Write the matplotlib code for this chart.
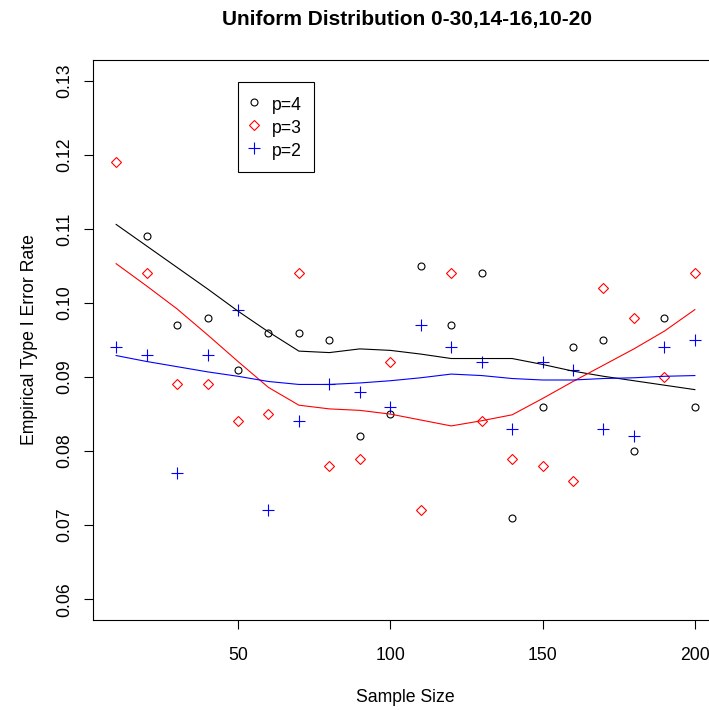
"""
Empirical type I error rate vs sample size, uniform distribution case.
R base-graphics look: boxed axes, rotated y tick labels, smooth curves.
Output: out.png
"""

import matplotlib
matplotlib.use("Agg")
import matplotlib.pyplot as plt
from matplotlib.lines import Line2D
import numpy as np

plt.rcParams["font.family"] = ["Liberation Sans", "DejaVu Sans"]

sample_sizes = [10, 20, 30, 40, 50, 60, 70, 80, 90, 100,
                110, 120, 130, 140, 150, 160, 170, 180, 190, 200]

# observed rates (p=4 at n=10 falls outside the plotted range)
rate_p4 = [np.nan, 0.109, 0.097, 0.098, 0.091, 0.096, 0.096, 0.095, 0.082, 0.085,
           0.105, 0.097, 0.104, 0.071, 0.086, 0.094, 0.095, 0.080, 0.098, 0.086]
rate_p3 = [0.119, 0.104, 0.089, 0.089, 0.084, 0.085, 0.104, 0.078, 0.079, 0.092,
           0.072, 0.104, 0.084, 0.079, 0.078, 0.076, 0.102, 0.098, 0.090, 0.104]
rate_p2 = [0.094, 0.093, 0.077, 0.093, 0.099, 0.072, 0.084, 0.089, 0.088, 0.086,
           0.097, 0.094, 0.092, 0.083, 0.092, 0.091, 0.083, 0.082, 0.094, 0.095]

# smoothed curves
smooth_p4 = [0.1106, 0.1077, 0.1048, 0.1019, 0.0989, 0.0961, 0.0935, 0.0933, 0.0938, 0.0936,
             0.0931, 0.0925, 0.0925, 0.0925, 0.0917, 0.0908, 0.0901, 0.0895, 0.0889, 0.0883]
smooth_p3 = [0.1053, 0.1023, 0.0992, 0.0957, 0.0921, 0.0886, 0.0862, 0.0857, 0.0855, 0.0850,
             0.0842, 0.0834, 0.0841, 0.0849, 0.0871, 0.0894, 0.0916, 0.0938, 0.0962, 0.0991]
smooth_p2 = [0.0929, 0.0921, 0.0914, 0.0907, 0.0901, 0.0894, 0.0890, 0.0890, 0.0892, 0.0895,
             0.0899, 0.0904, 0.0902, 0.0898, 0.0896, 0.0896, 0.0898, 0.0899, 0.0901, 0.0902]

x_ticks = [50, 100, 150, 200]
y_ticks = [0.06, 0.07, 0.08, 0.09, 0.10, 0.11, 0.12, 0.13]

W, H = 709, 710
FS = 12.7

fig = plt.figure(figsize=(W / 100, H / 100), dpi=100, facecolor="white")
# plot region runs past the right edge, as in the reference crop
ax = fig.add_axes([93 / W, 90 / H, 625 / W, 560 / H])

ax.plot(sample_sizes, rate_p4, linestyle="none", marker="o", ms=5.0,
        mfc="none", mec="black", mew=0.8)
ax.plot(sample_sizes, rate_p3, linestyle="none", marker="D", ms=4.8,
        mfc="none", mec="#ff0000", mew=0.8)
ax.plot(sample_sizes, rate_p2, linestyle="none", marker="+", ms=8.0,
        mec="#0000ff", mew=0.8)

ax.plot(sample_sizes, smooth_p4, color="black", lw=0.8)
ax.plot(sample_sizes, smooth_p3, color="#ff0000", lw=0.8)
ax.plot(sample_sizes, smooth_p2, color="#0000ff", lw=0.8)

ax.set_xlim(2.4, 207.6)
ax.set_ylim(0.0572, 0.1328)
ax.set_xticks(x_ticks)
ax.set_xticklabels([str(t) for t in x_ticks])
ax.set_yticks(y_ticks)
ax.set_yticklabels([f"{t:.2f}" for t in y_ticks], rotation=90, va="center")

for s in ax.spines.values():
    s.set_linewidth(0.8)
    s.set_color("black")
ax.tick_params(direction="out", length=6.5, width=0.8, labelsize=FS, colors="black")
ax.tick_params(axis="x", pad=13)
ax.tick_params(axis="y", pad=8)

ax.set_xlabel("Sample Size", fontsize=FS, labelpad=18)
ax.set_ylabel("Empirical Type I Error Rate", fontsize=FS, labelpad=12.5)

fig.text(407 / W, 1 - 19 / H, "Uniform Distribution 0-30,14-16,10-20",
         fontsize=15.0, fontweight="bold", ha="center", va="center")

handles = [
    Line2D([], [], linestyle="none", marker="o", ms=5.0, mfc="none", mec="black", mew=0.8),
    Line2D([], [], linestyle="none", marker="D", ms=4.8, mfc="none", mec="#ff0000", mew=0.8),
    Line2D([], [], linestyle="none", marker="+", ms=8.0, mec="#0000ff", mew=0.8),
]
leg = ax.legend(handles, ["p=4", "p=3", "p=2"], loc="upper left",
                bbox_to_anchor=(238 / W, 1 - 82 / H), bbox_transform=fig.transFigure,
                fontsize=FS, frameon=True, fancybox=False, framealpha=1,
                edgecolor="black", borderpad=0.72, labelspacing=0.2,
                handleheight=1.25, handlelength=0.36, handletextpad=0.82,
                borderaxespad=0)
leg.get_frame().set_linewidth(0.8)

fig.savefig("out.png", dpi=100, facecolor="white")
